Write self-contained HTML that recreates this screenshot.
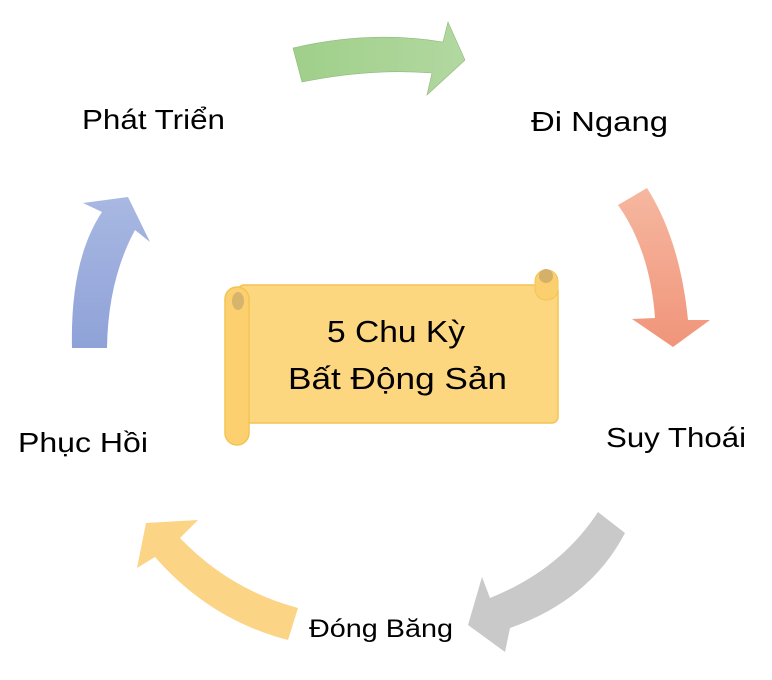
<!DOCTYPE html>
<html><head><meta charset="utf-8"><style>
body{margin:0;background:#fff;}
svg{display:block}
text{font-family:"Liberation Sans","DejaVu Sans",sans-serif;fill:#000}
</style></head><body>
<svg width="772" height="680" viewBox="0 0 772 680" xmlns="http://www.w3.org/2000/svg">
<defs>
<linearGradient id="g" x1="0" y1="0" x2="1" y2="0"><stop offset="0" stop-color="#9fcf8a"/><stop offset="1" stop-color="#b2d8a0"/></linearGradient>
<linearGradient id="s" x1="0" y1="0" x2="0" y2="1"><stop offset="0" stop-color="#f6b7a0"/><stop offset="1" stop-color="#f0957a"/></linearGradient>
<linearGradient id="b" x1="0" y1="1" x2="0" y2="0"><stop offset="0" stop-color="#8fa2d8"/><stop offset="1" stop-color="#a8b8e2"/></linearGradient>
</defs>
<path d="M293,48 Q370,30 443,42 L448,22 L465,60 L427,95 L432,73 Q370,68 302,82 Z" fill="url(#g)" stroke="#8fb87c" stroke-width="0.6"/>
<path d="M618,205 Q650,250 655,318 L632,319 L673,347 L710,320 L688,320 Q680,240 647,188 Z" fill="url(#s)"/>
<path d="M598,512 Q560,570 490,598 L482,577 L468,625 L505,652 L510,628 Q590,600 625,533 Z" fill="#c9c9c9"/>
<path d="M298,608 Q230,590 180,538 L198,520 L146,523 L137,568 L155,557 Q210,620 288,640 Z" fill="#fbd486"/>
<path d="M72,348 Q70,260 102,212 L83,203 L128,197 L150,242 L135,230 Q108,280 107,348 Z" fill="url(#b)"/>
<rect x="238" y="285" width="320" height="138" rx="6" fill="#fdd680" stroke="#f3c453" stroke-width="1.5"/>
<rect x="535" y="270" width="23" height="30" rx="11" fill="#fccf6e" stroke="#f3c453"/>
<circle cx="546" cy="276" r="7" fill="#d4b06a"/>
<rect x="225" y="287" width="24" height="158" rx="12" fill="#fcd06f" stroke="#f3c453" stroke-width="1.5"/>
<ellipse cx="238" cy="301" rx="6" ry="9" fill="#d7b46b"/>
<text x="327" y="342" font-size="31" textLength="138" lengthAdjust="spacingAndGlyphs">5 Chu Kỳ</text>
<text x="288" y="389" font-size="31" textLength="219" lengthAdjust="spacingAndGlyphs">Bất Động Sản</text>
<text x="82" y="129" font-size="28" textLength="143" lengthAdjust="spacingAndGlyphs">Phát Triển</text>
<text x="531" y="131" font-size="28" textLength="137" lengthAdjust="spacingAndGlyphs">Đi Ngang</text>
<text x="606" y="447" font-size="28" textLength="140" lengthAdjust="spacingAndGlyphs">Suy Thoái</text>
<text x="18" y="452" font-size="28" textLength="130" lengthAdjust="spacingAndGlyphs">Phục Hồi</text>
<text x="309" y="637" font-size="25" textLength="144" lengthAdjust="spacingAndGlyphs">Đóng Băng</text>
</svg>
</body></html>
